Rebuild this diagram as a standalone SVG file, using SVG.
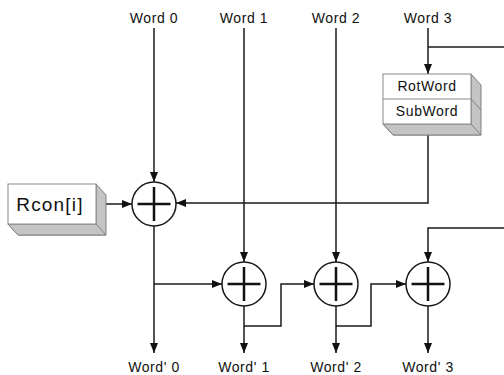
<svg xmlns="http://www.w3.org/2000/svg" width="504" height="375" viewBox="0 0 504 375">
<style>
.t{font-family:"Liberation Sans",Arial,sans-serif;font-size:14px;fill:#111;text-anchor:middle;letter-spacing:0.6px}
.big{font-size:19px;letter-spacing:1.2px}
.ln{fill:none;stroke:#1a1a1a;stroke-width:1.5}
.front{fill:#fff;stroke:#8a8a8a;stroke-width:1}
.side{fill:#c4c4c4;stroke:#808080;stroke-width:1}
.xc{fill:#fff;stroke:#1a1a1a;stroke-width:1.5}
.pl{stroke:#111;stroke-width:2.5;fill:none}
</style>
<defs>
<marker id="ah" viewBox="0 0 10 8" refX="10" refY="4" markerWidth="10" markerHeight="8" markerUnits="userSpaceOnUse" orient="auto">
<path d="M0,0 L10,4 L0,8 z" fill="#111"/>
</marker>
<symbol id="xor" overflow="visible">
<circle class="xc" cx="0" cy="0" r="22"/>
<path class="pl" d="M-16.5,0 H16.5 M0,-17 V17"/>
</symbol>
</defs>
<g id="labels-top">
<text class="t" x="154" y="23">Word 0</text>
<text class="t" x="244" y="23">Word 1</text>
<text class="t" x="336" y="23">Word 2</text>
<text class="t" x="428" y="23">Word 3</text>
</g>
<g id="labels-bottom">
<text class="t" x="154" y="372">Word' 0</text>
<text class="t" x="244" y="372">Word' 1</text>
<text class="t" x="336" y="372">Word' 2</text>
<text class="t" x="428" y="372">Word' 3</text>
</g>
<g id="connectors">
<path class="ln" d="M154,28 V182" marker-end="url(#ah)"/>
<path class="ln" d="M244,28 V262" marker-end="url(#ah)"/>
<path class="ln" d="M336,28 V262" marker-end="url(#ah)"/>
<path class="ln" d="M428,28 V74" marker-end="url(#ah)"/>
<path class="ln" d="M428,47 H504"/>
<path class="ln" d="M428,135 V203 H176" marker-end="url(#ah)"/>
<path class="ln" d="M106,204 H132" marker-end="url(#ah)"/>
<path class="ln" d="M154,226 V353" marker-end="url(#ah)"/>
<path class="ln" d="M154,284 H222" marker-end="url(#ah)"/>
<path class="ln" d="M244,306 V353" marker-end="url(#ah)"/>
<path class="ln" d="M244,326 H281 V284 H314" marker-end="url(#ah)"/>
<path class="ln" d="M336,306 V353" marker-end="url(#ah)"/>
<path class="ln" d="M336,326 H371 V284 H406" marker-end="url(#ah)"/>
<path class="ln" d="M504,228 H428 V262" marker-end="url(#ah)"/>
<path class="ln" d="M428,306 V353" marker-end="url(#ah)"/>
</g>
<g id="rotsub">
<path class="side" d="M471,74 L481,85 V135 H393 L383,124 H471 Z"/>
<path class="side" d="M383,124 H471 L481,135 H393 Z"/>
<path class="side" fill="none" d="M471,99 L481,110"/>
<rect class="front" x="383" y="74" width="88" height="50"/>
<line x1="383" y1="99" x2="471" y2="99" stroke="#8a8a8a" stroke-width="1"/>
<text class="t" x="427" y="91">RotWord</text>
<text class="t" x="427" y="116">SubWord</text>
</g>
<g id="rcon">
<path class="side" d="M96,184 L106,195 V235 H18 L8,224 H96 Z"/>
<path class="side" d="M8,224 H96 L106,235 H18 Z"/>
<rect class="front" x="8" y="184" width="88" height="40"/>
<text class="t big" x="50" y="211">Rcon[i]</text>
</g>
<g id="xor0"><use href="#xor" x="154" y="204"/></g>
<g id="xor1"><use href="#xor" x="244" y="284"/></g>
<g id="xor2"><use href="#xor" x="336" y="284"/></g>
<g id="xor3"><use href="#xor" x="428" y="284"/></g>
</svg>
